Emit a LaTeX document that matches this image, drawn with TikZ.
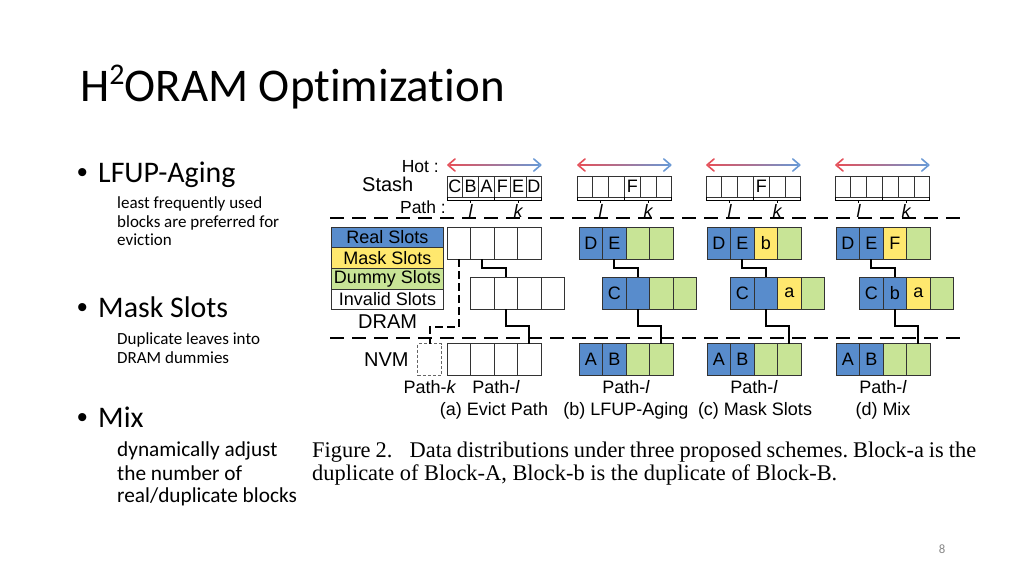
\documentclass[tikz,border=0pt]{standalone}
\usepackage{fontspec}
\setmainfont{Carlito}[Ligatures=NoCommon]
\newfontfamily\figfont{Liberation Sans}
\newfontfamily\capfont{Liberation Serif}
\usetikzlibrary{positioning}
\frenchspacing

\definecolor{realc}{RGB}{88,140,204}
\definecolor{maskc}{RGB}{255,232,110}
\definecolor{dummyc}{RGB}{200,228,150}
\definecolor{hotred}{RGB}{228,80,90}
\definecolor{hotblue}{RGB}{105,152,212}
\definecolor{pgnum}{RGB}{137,137,137}

\tikzset{
  cell/.style={draw=black!80, line width=0.8pt, minimum width=23.5pt, minimum height=32pt,
    inner sep=0pt, outer sep=0pt, font=\figfont\fontsize{18}{18}\selectfont},
  scell/.style={draw=black!80, line width=0.8pt, minimum width=15.8pt, minimum height=21pt,
    inner sep=0pt, outer sep=0pt, font=\figfont\fontsize{18}{18}\selectfont},
  legend/.style={draw=black!80, line width=0.8pt, minimum width=112pt, minimum height=20.7pt,
    inner sep=0pt, outer sep=0pt, font=\figfont\fontsize{18}{18}\selectfont},
  link/.style={line width=2pt},
  sep/.style={line width=2.5pt, dash pattern=on 14pt off 8pt},
  lbl/.style={inner sep=0pt, font=\figfont\fontsize{18}{18}\selectfont},
  txt/.style={inner sep=0pt, anchor=base west},
  dot/.style={inner sep=0pt, anchor=base west, font=\figfont\fontsize{29.9}{32}\selectfont},
}

\begin{document}
\begin{tikzpicture}[x=1pt,y=-1pt]
\fill[white] (0,0) rectangle (1024,576);
\useasboundingbox (0,0) rectangle (1024,576);

% slide text
\node[txt, font=\fontsize{46.9}{50}\selectfont] (title) at (80,101)
  {H\raisebox{0.36em}{\fontsize{30}{30}\selectfont 2}ORAM Optimization};
\node[dot] (b1) at (77,182) {•};
\node[txt, font=\fontsize{29.9}{32}\selectfont] (lfup) at (98,182) {LFUP-Aging};
\node[txt, font=\fontsize{17}{18}\selectfont] (s11) at (117,208.5) {least frequently used};
\node[txt, font=\fontsize{17}{18}\selectfont] (s12) at (117,227) {blocks are preferred for};
\node[txt, font=\fontsize{17}{18}\selectfont] (s13) at (117,245.5) {eviction};
\node[dot] (b2) at (77,317) {•};
\node[txt, font=\fontsize{29.9}{32}\selectfont] (mask) at (98,317) {Mask Slots};
\node[txt, font=\fontsize{17}{18}\selectfont] (s21) at (117,344.3) {Duplicate leaves into};
\node[txt, font=\fontsize{17}{18}\selectfont] (s22) at (117,363.3) {DRAM dummies};
\node[dot] (b3) at (77,427) {•};
\node[txt, font=\fontsize{29.9}{32}\selectfont] (mix) at (98,427) {Mix};
\node[txt, font=\fontsize{21.3}{22}\selectfont] (s31) at (117,456.7) {dynamically adjust};
\node[txt, font=\fontsize{21.3}{22}\selectfont] (s32) at (117,480) {the number of};
\node[txt, font=\fontsize{21.3}{22}\selectfont] (s33) at (117,502.7) {real/duplicate blocks};
\node[inner sep=0pt, text=pgnum, font=\fontsize{12.8}{14}\selectfont] (pg) at (942,549) {8};

% separators
\draw[sep] (330,218) -- (960,218);
\draw[sep] (330,338) -- (960,338);

% legend
\node[legend, fill=realc] (lreal) at (387.5,237.4) {Real Slots};
\node[legend, fill=maskc, below=0pt of lreal] (lmask) {Mask Slots};
\node[legend, fill=dummyc, below=0pt of lmask] (ldummy) {Dummy Slots};
\node[legend, fill=white, below=0pt of ldummy] (linvalid) {Invalid Slots};

\node[lbl, anchor=base east, font=\figfont\fontsize{17.5}{18}\selectfont] (hot) at (439,172) {Hot :};
\node[lbl, anchor=base west, font=\figfont\fontsize{20}{20}\selectfont] (stash) at (362,191) {Stash};
\node[lbl, anchor=base east, font=\figfont\fontsize{17.5}{18}\selectfont] (path) at (446,213) {Path :};
\node[lbl, anchor=base west, font=\figfont\fontsize{20}{20}\selectfont] (dram) at (358,328) {DRAM};
\node[lbl, anchor=base west, font=\figfont\fontsize{20}{20}\selectfont] (nvm) at (364,366) {NVM};

% stashes
\foreach \t [count=\i] in {C,B,A,F,E,D}
  \node[scell] (as\i) at (447+15.8*\i-7.9,186.5) {\t};
\foreach \t [count=\i] in {{},{},{},F,{},{}}
  \node[scell] (bs\i) at (577+15.8*\i-7.9,186.5) {\t};
\foreach \t [count=\i] in {{},{},{},F,{},{}}
  \node[scell] (cs\i) at (706+15.8*\i-7.9,186.5) {\t};
\foreach \t [count=\i] in {{},{},{},{},{},{}}
  \node[scell] (ds\i) at (835+15.8*\i-7.9,186.5) {\t};

\foreach \p in {a,b,c,d} {
  \draw[line width=0.8pt] (\p s1.south west) -- ++(0,3) -| (\p s3.south east);
  \draw[line width=0.8pt] (\p s4.south west) -- ++(0,3) -| (\p s6.south east);
  \draw[line width=0.8pt] ([yshift=-3pt]\p s2.south) -- ++(0,3);
  \draw[line width=0.8pt] ([yshift=-3pt]\p s5.south) -- ++(0,3);
  \node[lbl, anchor=base, font=\figfont\itshape\fontsize{18}{18}\selectfont] (\p l) at (\p s2 |- 0,217) {l};
  \node[lbl, anchor=base, font=\figfont\itshape\fontsize{18}{18}\selectfont] (\p k) at (\p s5 |- 0,217) {k};
  % hot arrow
  \shade[left color=hotred, right color=hotblue] ([shift={(3pt,10.2pt)}]\p s1.north west) rectangle ([shift={(-3pt,11.8pt)}]\p s6.north east);
  \draw[hotred, line width=1.6pt, line cap=round, line join=round]
    ([shift={(8pt,17pt)}]\p s1.north west) -- ([shift={(1pt,11pt)}]\p s1.north west) -- ([shift={(8pt,5pt)}]\p s1.north west);
  \draw[hotblue, line width=1.6pt, line cap=round, line join=round]
    ([shift={(-8pt,17pt)}]\p s6.north east) -- ([shift={(-1pt,11pt)}]\p s6.north east) -- ([shift={(-8pt,5pt)}]\p s6.north east);
}

% (a) evict path
\foreach \i in {1,...,4} {
  \node[cell] (a1\i) at (447+23.5*\i-11.75,243) {};
  \node[cell] (a2\i) at (470.5+23.5*\i-11.75,293) {};
  \node[cell] (a3\i) at (447+23.5*\i-11.75,359.5) {};
}
\node[cell, draw=black!60, dash pattern=on 3pt off 2pt] (ak) at (429.5,359.5) {};

% (b) LFUP-Aging
\foreach \f/\t [count=\i] in {realc/D,realc/E,dummyc/{},dummyc/{}}
  \node[cell, fill=\f] (b1\i) at (579+23.5*\i-11.75,243) {\t};
\foreach \f/\t [count=\i] in {realc/C,realc/{},dummyc/{},dummyc/{}}
  \node[cell, fill=\f] (b2\i) at (602.5+23.5*\i-11.75,293) {\t};
\foreach \f/\t [count=\i] in {realc/A,realc/B,dummyc/{},dummyc/{}}
  \node[cell, fill=\f] (b3\i) at (579+23.5*\i-11.75,359.5) {\t};

% (c) Mask Slots
\foreach \f/\t [count=\i] in {realc/D,realc/E,maskc/b,dummyc/{}}
  \node[cell, fill=\f] (c1\i) at (707+23.5*\i-11.75,243) {\t};
\foreach \f/\t [count=\i] in {realc/C,realc/{},maskc/a,dummyc/{}}
  \node[cell, fill=\f] (c2\i) at (730.5+23.5*\i-11.75,293) {\t};
\foreach \f/\t [count=\i] in {realc/A,realc/B,dummyc/{},dummyc/{}}
  \node[cell, fill=\f] (c3\i) at (707+23.5*\i-11.75,359.5) {\t};

% (d) Mix
\foreach \f/\t [count=\i] in {realc/D,realc/E,maskc/F,dummyc/{}}
  \node[cell, fill=\f] (d1\i) at (836+23.5*\i-11.75,243) {\t};
\foreach \f/\t [count=\i] in {realc/C,realc/b,maskc/a,dummyc/{}}
  \node[cell, fill=\f] (d2\i) at (859.5+23.5*\i-11.75,293) {\t};
\foreach \f/\t [count=\i] in {realc/A,realc/B,dummyc/{},dummyc/{}}
  \node[cell, fill=\f] (d3\i) at (836+23.5*\i-11.75,359.5) {\t};

% paths
\draw[link, dash pattern=on 8pt off 4pt] (a11.south) -- ++(0,68) -| (ak.north);
\foreach \p in {a,b,c,d} {
  \draw[link] (\p12.south) -- ++(0,9) -| (\p22.north);
  \draw[link] (\p22.south) -- ++(0,17) -| (\p34.north);
}

% labels
\node[lbl] (pk) at (430,387) {Path-\textit{k}};
\node[lbl] (pal) at (496,387) {Path-\textit{l}};
\node[lbl] (pbl) at (626,387) {Path-\textit{l}};
\node[lbl] (pcl) at (754,387) {Path-\textit{l}};
\node[lbl] (pdl) at (883,387) {Path-\textit{l}};
\node[lbl] (capa) at (494,411) {(a) Evict Path};
\node[lbl] (capb) at (626,411) {(b) LFUP-Aging};
\node[lbl] (capc) at (755,411) {(c) Mask Slots};
\node[lbl] (capd) at (883,411) {(d) Mix};

% caption
\node[txt, font=\capfont\fontsize{22.4}{24}\selectfont] (fig1) at (312,457)
  {\makebox[664pt][s]{Figure 2.\hspace{0.55em} Data distributions under three proposed schemes. Block-a is the}};
\node[txt, font=\capfont\fontsize{22.4}{24}\selectfont] (fig2) at (312,480) {duplicate of Block-A, Block-b is the duplicate of Block-B.};
\end{tikzpicture}
\end{document}
